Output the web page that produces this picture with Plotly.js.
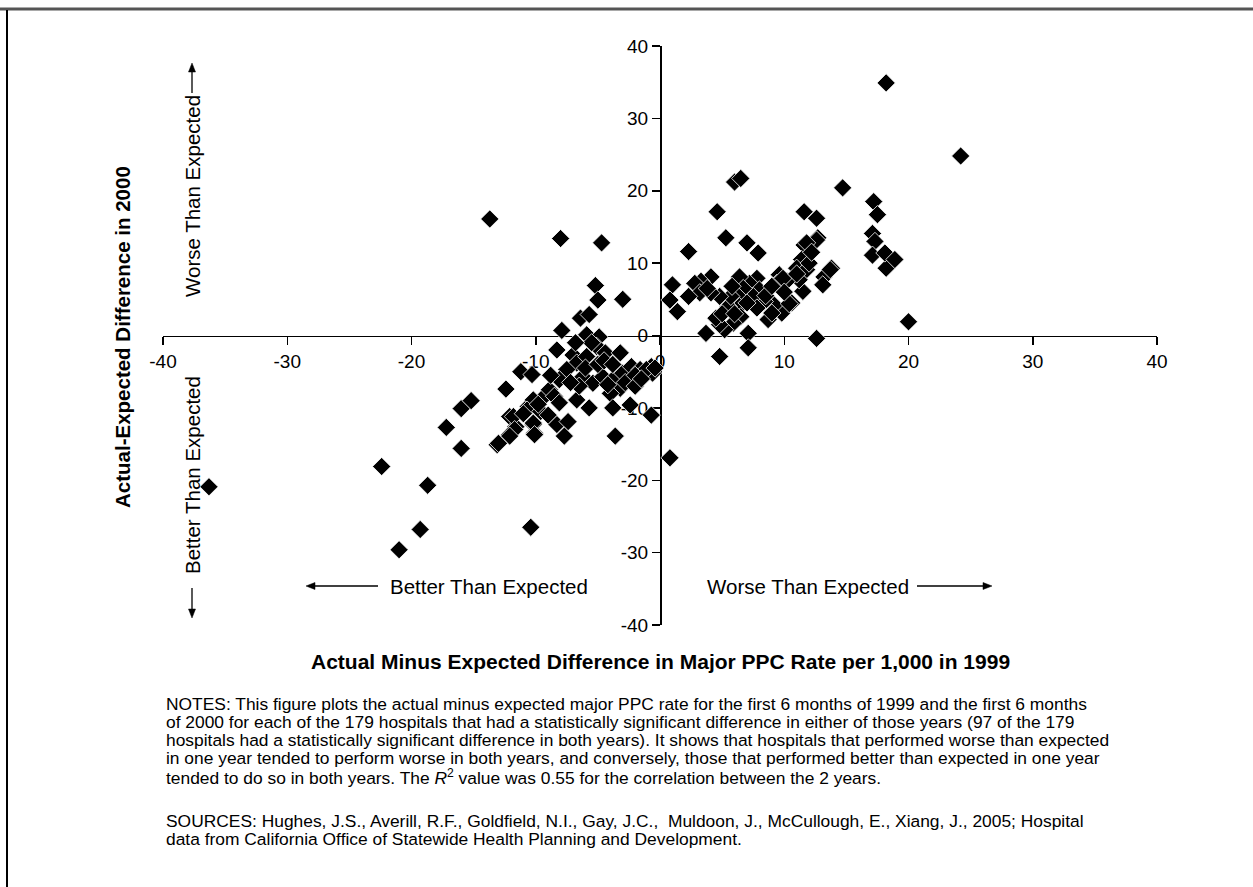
<!DOCTYPE html>
<html>
<head>
<meta charset="utf-8">
<script src="https://cdn.plot.ly/plotly-3.0.1.min.js"></script>
<style>html,body{margin:0;padding:0;background:#fff;}#chart{width:1253px;height:887px;}</style>
</head>
<body>
<div id="chart"></div>
<script>
// Actual minus expected major PPC rate per 1,000: 1999 (x) vs 2000 (y)
const diff1999 = [
 -36.3,-22.4,-18.7,-19.3,-21.0,-10.4,-17.2,-16.0,-16.0,-15.2,-12.4,-13.1,-11.2,-10.3,-12.1,-10.6,-11.6,-12.1,-10.2,-10.1,
 -9.3,-13.7,-8.0,-4.7,-5.2,-5.0,-3.0,-6.4,-5.7,-7.9,-5.9,-4.9,-8.3,-7.0,-5.1,-4.4,-3.2,-6.7,-5.9,-6.2,
 -5.4,-4.6,-3.8,-3.0,-2.3,-1.6,-0.7,-0.6,-3.2,-4.0,-2.4,-3.8,-5.7,-6.7,-0.7,-3.6,-7.5,-8.1,-8.9,-8.5,
 -8.1,-10.2,-10.7,-11.8,-10.2,-11.7,-12.1,-10.1,-8.3,-7.4,-7.7,-13.0,0.8,-1.1,-0.4,-6.0,-5.0,-4.2,-2.8,-2.0,
 -6.5,-7.2,-9.6,-9.0,-4.5,-5.5,-3.8,-6.8,-2.0,-1.5,-9.8,-11.0,-8.8,
 6.0,6.5,4.6,14.7,17.2,17.5,17.1,17.3,17.1,18.2,18.1,18.9,18.2,24.2,20.0,11.6,12.6,5.3,7.0,7.9,
 2.3,11.6,12.7,11.4,11.0,11.8,13.8,13.2,13.1,11.5,11.2,9.6,10.2,9.4,10.6,9.8,9.2,8.7,9.0,8.4,
 7.8,7.2,8.0,7.5,6.4,6.7,6.3,6.4,6.5,5.9,5.2,4.8,4.5,5.5,5.7,4.8,4.1,4.1,3.3,2.8,
 3.2,2.3,1.0,0.8,1.4,3.7,4.8,7.1,7.1,12.6,12.6,11.8,13.7,10.4,9.9,12.0,11.0,8.5,5.0,6.0,
 3.8,7.8,10.0,12.2,9.0,5.8,7.0
];
const diff2000 = [
 -20.9,-18.1,-20.7,-26.8,-29.6,-26.5,-12.7,-15.6,-10.1,-9.0,-7.4,-15.1,-5.0,-5.4,-11.2,-9.8,-12.6,-13.7,-12.3,-13.5,
 -8.4,16.1,13.4,12.8,6.9,4.9,5.0,2.4,2.9,0.7,0.1,-0.2,-2.0,-2.7,-1.5,-2.4,-2.4,-3.8,-2.9,-5.7,
 -6.6,-5.7,-6.1,-5.2,-4.3,-4.7,-4.3,-5.2,-7.3,-8.0,-9.6,-10.0,-10.0,-8.9,-11.0,-13.9,-4.7,-6.1,-7.5,-8.4,
 -9.3,-8.9,-10.3,-11.2,-12.1,-13.0,-13.9,-13.7,-12.3,-11.9,-13.9,-14.9,-16.9,-4.7,-4.5,-4.5,-4.0,-6.8,-6.5,-5.5,
 -7.0,-6.5,-10.5,-11.0,-3.5,-1.0,-4.0,-1.0,-7.0,-6.0,-9.5,-10.8,-5.5,
 21.2,21.7,17.1,20.4,18.5,16.7,14.1,13.0,11.1,9.3,11.4,10.5,34.9,24.8,1.9,17.1,16.2,13.5,12.8,11.4,
 11.6,12.5,13.5,10.5,9.3,9.1,9.3,8.1,7.0,6.1,7.7,8.4,7.5,7.2,4.5,3.1,4.2,2.2,3.1,4.7,
 7.9,7.2,6.3,5.4,8.1,6.5,5.4,4.0,2.6,1.7,0.8,1.5,2.4,4.0,5.4,5.4,5.9,8.1,7.5,7.2,
 5.9,5.4,7.0,4.9,3.3,0.3,-2.9,0.3,-1.7,-0.4,13.2,12.8,9.1,4.4,7.9,10.0,8.5,5.5,3.0,3.0,
 6.5,3.8,6.0,11.5,6.8,6.8,4.5
];
const tickVals = [-40,-30,-20,-10,0,10,20,30,40];
const xTitle = 'Actual Minus Expected Difference in Major PPC Rate per 1,000 in 1999';
const yTitle = 'Actual-Expected Difference in 2000';
const betterLabel = 'Better Than Expected';
const worseLabel = 'Worse Than Expected';
const notesLines = [
 'NOTES: This figure plots the actual minus expected major PPC rate for the first 6 months of 1999 and the first 6 months',
 'of 2000 for each of the 179 hospitals that had a statistically significant difference in either of those years (97 of the 179',
 'hospitals had a statistically significant difference in both years). It shows that hospitals that performed worse than expected',
 'in one year tended to perform worse in both years, and conversely, those that performed better than expected in one year',
 'tended to do so in both years. The <i>R</i><sup>2</sup> value was 0.55 for the correlation between the 2 years.'
];
const sourcesLines = [
 'SOURCES: Hughes, J.S., Averill, R.F., Goldfield, N.I., Gay, J.C.,  Muldoon, J., McCullough, E., Xiang, J., 2005; Hospital',
 'data from California Office of Statewide Health Planning and Development.'
];

// layout geometry (pixels)
const W = 1253, H = 887, L = 163, R = 96, T = 46, B = 262;
const PW = W - L - R, PH = H - T - B;
const px = x => (x - L) / PW;
const py = y => (H - B - y) / PH;
const FONT = 'Liberation Sans, Arial, Helvetica, sans-serif';

const trace = {
  x: diff1999, y: diff2000, type: 'scatter', mode: 'markers',
  marker: {symbol: 'diamond', size: 14, color: '#000', line: {color: '#fff', width: 0.8}},
  hoverinfo: 'x+y'
};

const annotations = [];
function txt(text, x, y, opts) {
  annotations.push(Object.assign({text: text, xref: 'paper', yref: 'paper', x: px(x), y: py(y),
    xanchor: 'center', yanchor: 'middle',
    showarrow: false, font: {family: FONT, size: 20.5, color: '#000'}}, opts || {}));
}
txt('<b>' + xTitle + '</b>', 660, 661, {font: {family: FONT, size: 21, color: '#000'}});
txt('<b>' + yTitle + '</b>', 122, 337, {textangle: -90, font: {family: FONT, size: 20.5, color: '#000'}});
txt(worseLabel, 192, 196, {textangle: -90});
txt(betterLabel, 192, 475, {textangle: -90});
txt(betterLabel, 489, 586);
txt(worseLabel, 808, 586);
const noteFont = {family: FONT, size: 17.4, color: '#000'};
const noteY = [704, 722, 740, 758, 777];
notesLines.forEach((t, i) => txt(t, 164, noteY[i], {xanchor: 'left', font: noteFont}));
sourcesLines.forEach((t, i) => txt(t, 164, 821 + i * 18, {xanchor: 'left', font: noteFont}));

const shapes = [
  {type: 'line', xref: 'paper', yref: 'paper', x0: px(0), x1: px(1253), y0: py(9), y1: py(9), line: {color: '#555', width: 3}},
  {type: 'line', xref: 'paper', yref: 'paper', x0: px(7), x1: px(7), y0: py(10), y1: py(887), line: {color: '#000', width: 2}}
];
// arrow drawn as a line plus a filled triangular head (pixel positions converted to paper)
function arrow(x1, y1, x2, y2) {
  const dx = x2 - x1, dy = y2 - y1, len = Math.hypot(dx, dy);
  const ux = dx / len, uy = dy / len, hl = 9, hw = 3.5;
  const bx = x2 - ux * hl, by = y2 - uy * hl;
  shapes.push({type: 'line', xref: 'paper', yref: 'paper', x0: px(x1), y0: py(y1), x1: px(bx), y1: py(by),
    line: {color: '#000', width: 1.3}});
  const p1 = [bx - uy * hw, by + ux * hw], p2 = [bx + uy * hw, by - ux * hw];
  shapes.push({type: 'path', xref: 'paper', yref: 'paper',
    path: `M ${px(x2)} ${py(y2)} L ${px(p1[0])} ${py(p1[1])} L ${px(p2[0])} ${py(p2[1])} Z`,
    fillcolor: '#000', line: {color: '#000', width: 0.5}});
}
arrow(192, 93, 192, 63);
arrow(192, 588, 192, 618);
arrow(378, 586, 306, 586);
arrow(917, 586, 992, 586);

const layout = {
  width: W, height: H,
  margin: {l: L, r: R, t: T, b: B, pad: 0},
  paper_bgcolor: '#fff', plot_bgcolor: '#fff',
  showlegend: false,
  font: {family: FONT, size: 19, color: '#000'},
  xaxis: {range: [-40, 40], tickvals: tickVals, ticktext: tickVals.map(String), showgrid: false, zeroline: false,
    showline: true, linecolor: '#000', linewidth: 1.5, ticks: 'outside', ticklen: 8, tickwidth: 1.5, tickcolor: '#000',
    anchor: 'free', position: 0.5, layer: 'below traces', tickfont: {family: FONT, size: 19, color: '#000'}},
  yaxis: {range: [-40, 40], tickvals: tickVals, ticktext: tickVals.map(String), showgrid: false, zeroline: false,
    showline: true, linecolor: '#000', linewidth: 1.5, ticks: 'outside', ticklen: 8, tickwidth: 1.5, tickcolor: '#000',
    anchor: 'free', position: 0.5, layer: 'below traces', tickfont: {family: FONT, size: 19, color: '#000'}},
  shapes: shapes,
  annotations: annotations
};

Plotly.newPlot('chart', [trace], layout, {displayModeBar: false, staticPlot: true});
</script>
</body>
</html>
